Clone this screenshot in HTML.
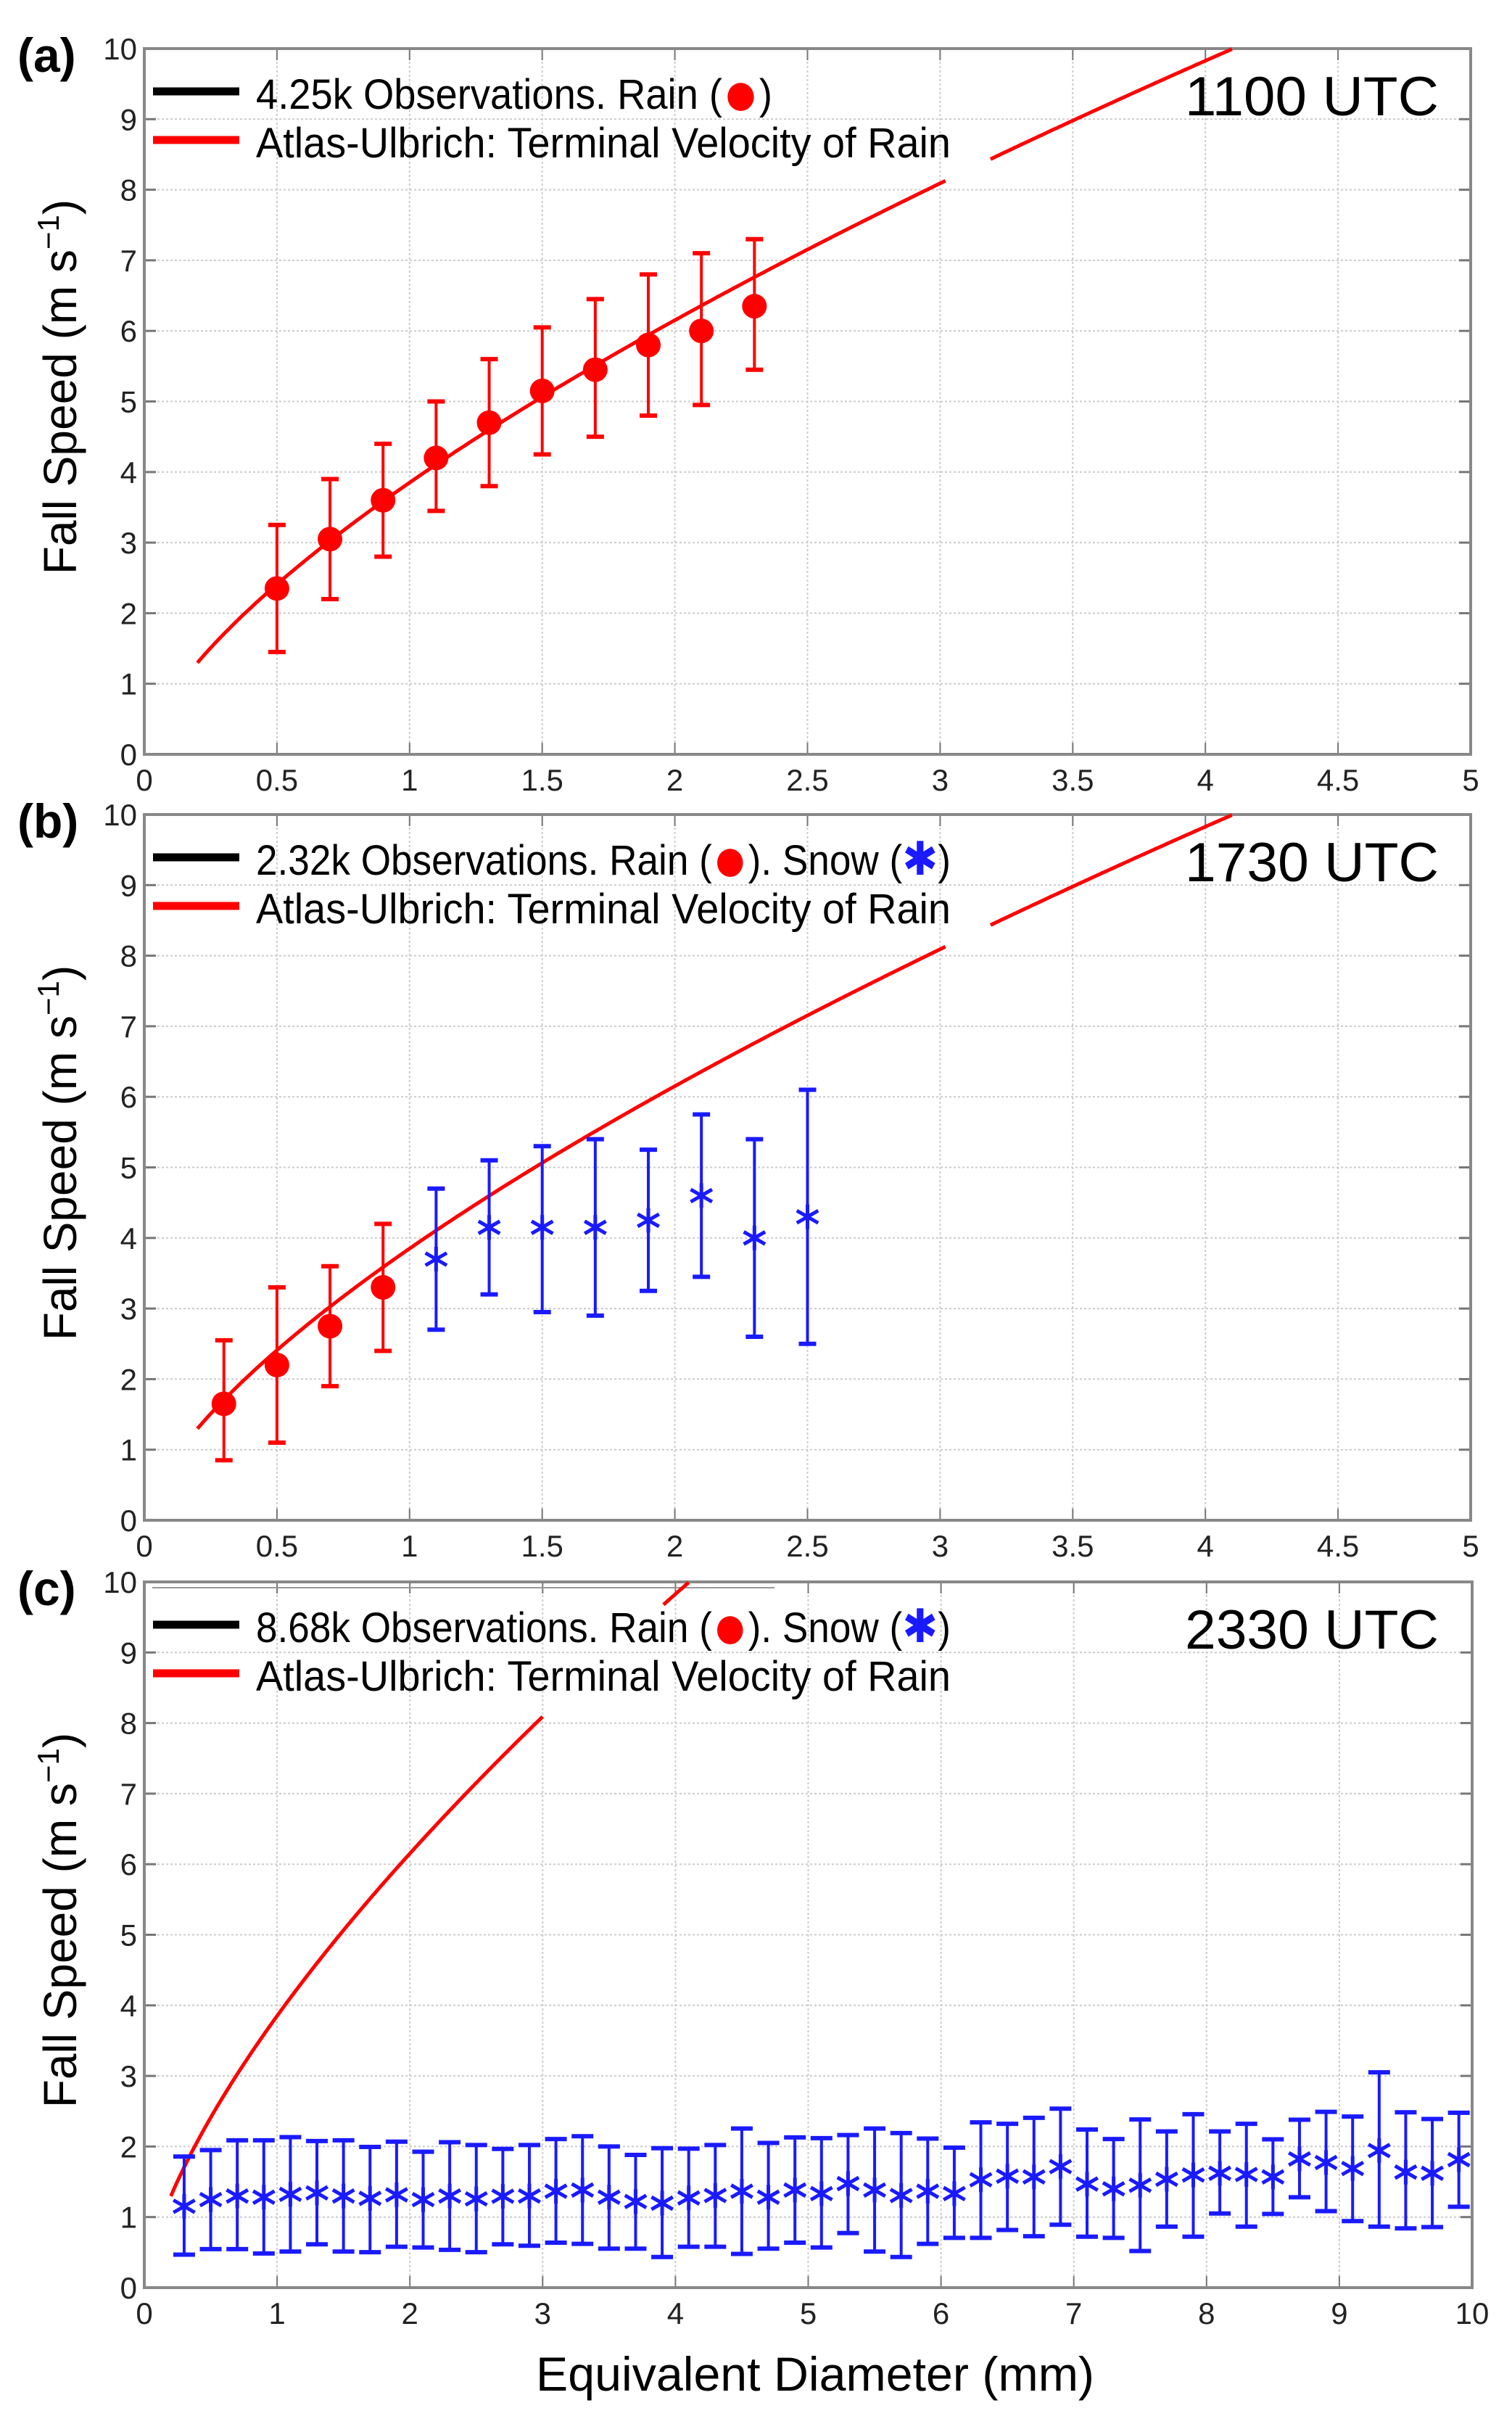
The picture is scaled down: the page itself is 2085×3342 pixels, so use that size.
<!DOCTYPE html>
<html><head><meta charset="utf-8"><style>html,body{margin:0;padding:0;background:#fff}svg{display:block}</style></head>
<body>
<svg id="s" xmlns="http://www.w3.org/2000/svg" width="2085" height="3342" viewBox="0 0 2085 3342" font-family="Liberation Sans, sans-serif"></svg>
<script>
const S=document.getElementById('s');let h='';
const X0=199,H=973;
function curve(px,top,xmax,W,gaps){
  let segs=[],cur=[];
  for(let D=0.2;D<=xmax+1e-9;D+=0.01){
    let v=3.85*Math.pow(D,0.676); if(v>10){break;}
    let g=gaps.some(g=>D>g[0]&&D<g[1]);
    if(g){if(cur.length)segs.push(cur);cur=[];continue;}
    cur.push((X0+D*px).toFixed(1)+','+(top+H-v*H/10).toFixed(1));
  }
  if(cur.length)segs.push(cur);
  segs.forEach(s=>h+=`<polyline points="${s.join(' ')}" fill="none" stroke="#f00" stroke-width="5"/>`);
}
function panel(top,xmax,step,labels,lab,utc){
  const W=xmax===5?1829:1831, R=X0+W, B=top+H;
  for(let i=1;i<10;i++){let y=top+H-i*H/10;h+=`<line x1="${X0}" y1="${y}" x2="${R}" y2="${y}" stroke="#ccc" stroke-width="2" stroke-dasharray="3,3"/>`;}
  for(let i=1;i<labels.length-1;i++){let x=X0+i*W/(labels.length-1);h+=`<line x1="${x}" y1="${top}" x2="${x}" y2="${B}" stroke="#ccc" stroke-width="2" stroke-dasharray="3,3"/>`;
   h+=`<line x1="${x}" y1="${B}" x2="${x}" y2="${B-16}" stroke="#777" stroke-width="2"/><line x1="${x}" y1="${top}" x2="${x}" y2="${top+16}" stroke="#777" stroke-width="2"/>`;}
  for(let i=0;i<=10;i++){let y=top+H-i*H/10;h+=`<line x1="${X0}" y1="${y}" x2="${X0+16}" y2="${y}" stroke="#777" stroke-width="3"/><line x1="${R}" y1="${y}" x2="${R-16}" y2="${y}" stroke="#777" stroke-width="3"/>`;
   h+=`<text x="${X0-10}" y="${y+15}" font-size="42" text-anchor="end" fill="#222">${i}</text>`;}
  labels.forEach((l,i)=>{let x=X0+i*W/(labels.length-1);h+=`<text x="${x}" y="${B+50}" font-size="42" text-anchor="middle" fill="#222">${l}</text>`;});
  h+=`<rect x="${X0}" y="${top}" width="${W}" height="${H}" fill="none" stroke="#888" stroke-width="4"/>`;
  h+=`<text x="24" y="${top+32}" font-size="66" font-weight="bold" font-family="Liberation Sans, Arial, sans-serif">${lab}</text>`;
  h+=`<text x="1984" y="${top+92}" font-size="76" text-anchor="end" textLength="350" lengthAdjust="spacingAndGlyphs">${utc}</text>`;
  h+=`<text transform="translate(105,${top+H/2-20}) rotate(-90)" font-size="64" text-anchor="middle">Fall Speed (m s<tspan font-size="42" dy="-24">−1</tspan><tspan dy="24">)</tspan></text>`;
}
function legend(top,t1len,txt){
  h+=`<line x1="211" y1="${top+59}" x2="330" y2="${top+59}" stroke="#000" stroke-width="11"/>`;
  h+=`<line x1="211" y1="${top+126}" x2="330" y2="${top+126}" stroke="#f00" stroke-width="11"/>`;
  h+=`<text x="353" y="${top+83}" font-size="58" textLength="${t1len}" lengthAdjust="spacingAndGlyphs">${txt}</text>`;
  h+=`<text x="353" y="${top+150}" font-size="58" textLength="958" lengthAdjust="spacingAndGlyphs">Atlas-Ulbrich: Terminal Velocity of Rain</text>`;
}
function ebar(x,m,lo,hi,top,col,cw,sw){
  const y=v=>top+H-v*H/10;
  h+=`<line x1="${x}" y1="${y(lo)}" x2="${x}" y2="${y(hi)}" stroke="${col}" stroke-width="${sw}"/>`;
  h+=`<line x1="${x-cw}" y1="${y(lo)}" x2="${x+cw}" y2="${y(lo)}" stroke="${col}" stroke-width="${sw+2}"/>`;
  h+=`<line x1="${x-cw}" y1="${y(hi)}" x2="${x+cw}" y2="${y(hi)}" stroke="${col}" stroke-width="${sw+2}"/>`;
}
function dot(x,v,top){h+=`<circle cx="${x}" cy="${top+H-v*H/10}" r="17" fill="#f00"/>`;}
function star(x,v,top,s){let y=top+H-v*H/10;for(let a=0;a<3;a++){let t=Math.PI/2+a*Math.PI/3;h+=`<line x1="${x-s*Math.cos(t)}" y1="${y-s*Math.sin(t)}" x2="${x+s*Math.cos(t)}" y2="${y+s*Math.sin(t)}" stroke="#1a1aff" stroke-width="5"/>`;}}
const RC='<tspan fill="#f00" font-size="90" dy="9">●</tspan><tspan dy="-9">)</tspan>';
const SN='<tspan fill="#1a1aff" font-size="64">✱</tspan>)';
const l5=['0','0.5','1','1.5','2','2.5','3','3.5','4','4.5','5'], l10=['0','1','2','3','4','5','6','7','8','9','10'];
let T=67; panel(T,5,0.5,l5,'(a)','1100 UTC');
curve(1829/5,T,5,1829,[[3.02,3.18]]);
[[0.5,2.35,1.45,3.25],[0.7,3.05,2.2,3.9],[0.9,3.6,2.8,4.4],[1.1,4.2,3.45,5.0],[1.3,4.7,3.8,5.6],[1.5,5.15,4.25,6.05],[1.7,5.45,4.5,6.45],[1.9,5.8,4.8,6.8],[2.1,6.0,4.95,7.1],[2.3,6.35,5.45,7.3]].forEach(d=>{let x=X0+d[0]*1829/5;ebar(x,d[1],d[2],d[3],T,'#f00',12,4);dot(x,d[1],T);});
legend(T,712,'4.25k Observations. Rain ('+RC);
T=1123; panel(T,5,0.5,l5,'(b)','1730 UTC');
curve(1829/5,T,5,1829,[[3.02,3.18]]);
[[0.3,1.65,0.85,2.55],[0.5,2.2,1.1,3.3],[0.7,2.75,1.9,3.6],[0.9,3.3,2.4,4.2]].forEach(d=>{let x=X0+d[0]*1829/5;ebar(x,d[1],d[2],d[3],T,'#f00',12,4);dot(x,d[1],T);});
[[1.1,3.7,2.7,4.7],[1.3,4.15,3.2,5.1],[1.5,4.15,2.95,5.3],[1.7,4.15,2.9,5.4],[1.9,4.25,3.25,5.25],[2.1,4.6,3.45,5.75],[2.3,4.0,2.6,5.4],[2.5,4.3,2.5,6.1]].forEach(d=>{let x=X0+d[0]*1829/5;ebar(x,d[1],d[2],d[3],T,'#1a1aff',12,4);star(x,d[1],T,17);});
legend(T,958,'2.32k Observations. Rain ('+RC+'. Snow ('+SN);
T=2181; panel(T,10,1,l10,'(c)','2330 UTC');
h+=`<line x1="210" y1="${T+8}" x2="1068" y2="${T+8}" stroke="#999" stroke-width="2"/>`;
curve(1831/10,T,10,1831,[[3.0,3.9]]);
const tops=[220,193,152,152,139,155,152,180,158,200,160,172,188,172,147,135,178,213,185,187,172,103,163,140,143,130,103,122,145,183,77,83,58,20,107,147,65,115,43,115,83,148,66,33,53,-132,35,63,37];
const means=[428,400,385,390,378,372,385,395,380,400,385,397,386,385,365,360,390,408,415,393,383,365,390,360,375,333,360,383,365,375,317,302,305,262,335,355,340,315,297,290,295,305,230,245,270,195,285,290,233];
const bots=[630,607,607,625,617,587,617,620,597,600,610,620,587,593,580,585,605,605,640,597,597,627,605,580,600,540,617,640,585,560,560,527,553,505,555,560,615,513,555,458,513,460,390,448,490,513,520,515,430];
const cv=p=>(768-p)/295;
for(let i=0;i<49;i++){let D=0.3+0.2*i,x=X0+D*183.1;ebar(x,cv(means[i]),cv(bots[i]),cv(tops[i]),T,'#1a1aff',15,4);star(x,cv(means[i]),T,17);}
legend(T,958,'8.68k Observations. Rain ('+RC+'. Snow ('+SN);
h+=`<text x="1124" y="3296" font-size="66" text-anchor="middle" textLength="770" lengthAdjust="spacingAndGlyphs">Equivalent Diameter (mm)</text>`;
S.innerHTML=h;
</script>
</body></html>
